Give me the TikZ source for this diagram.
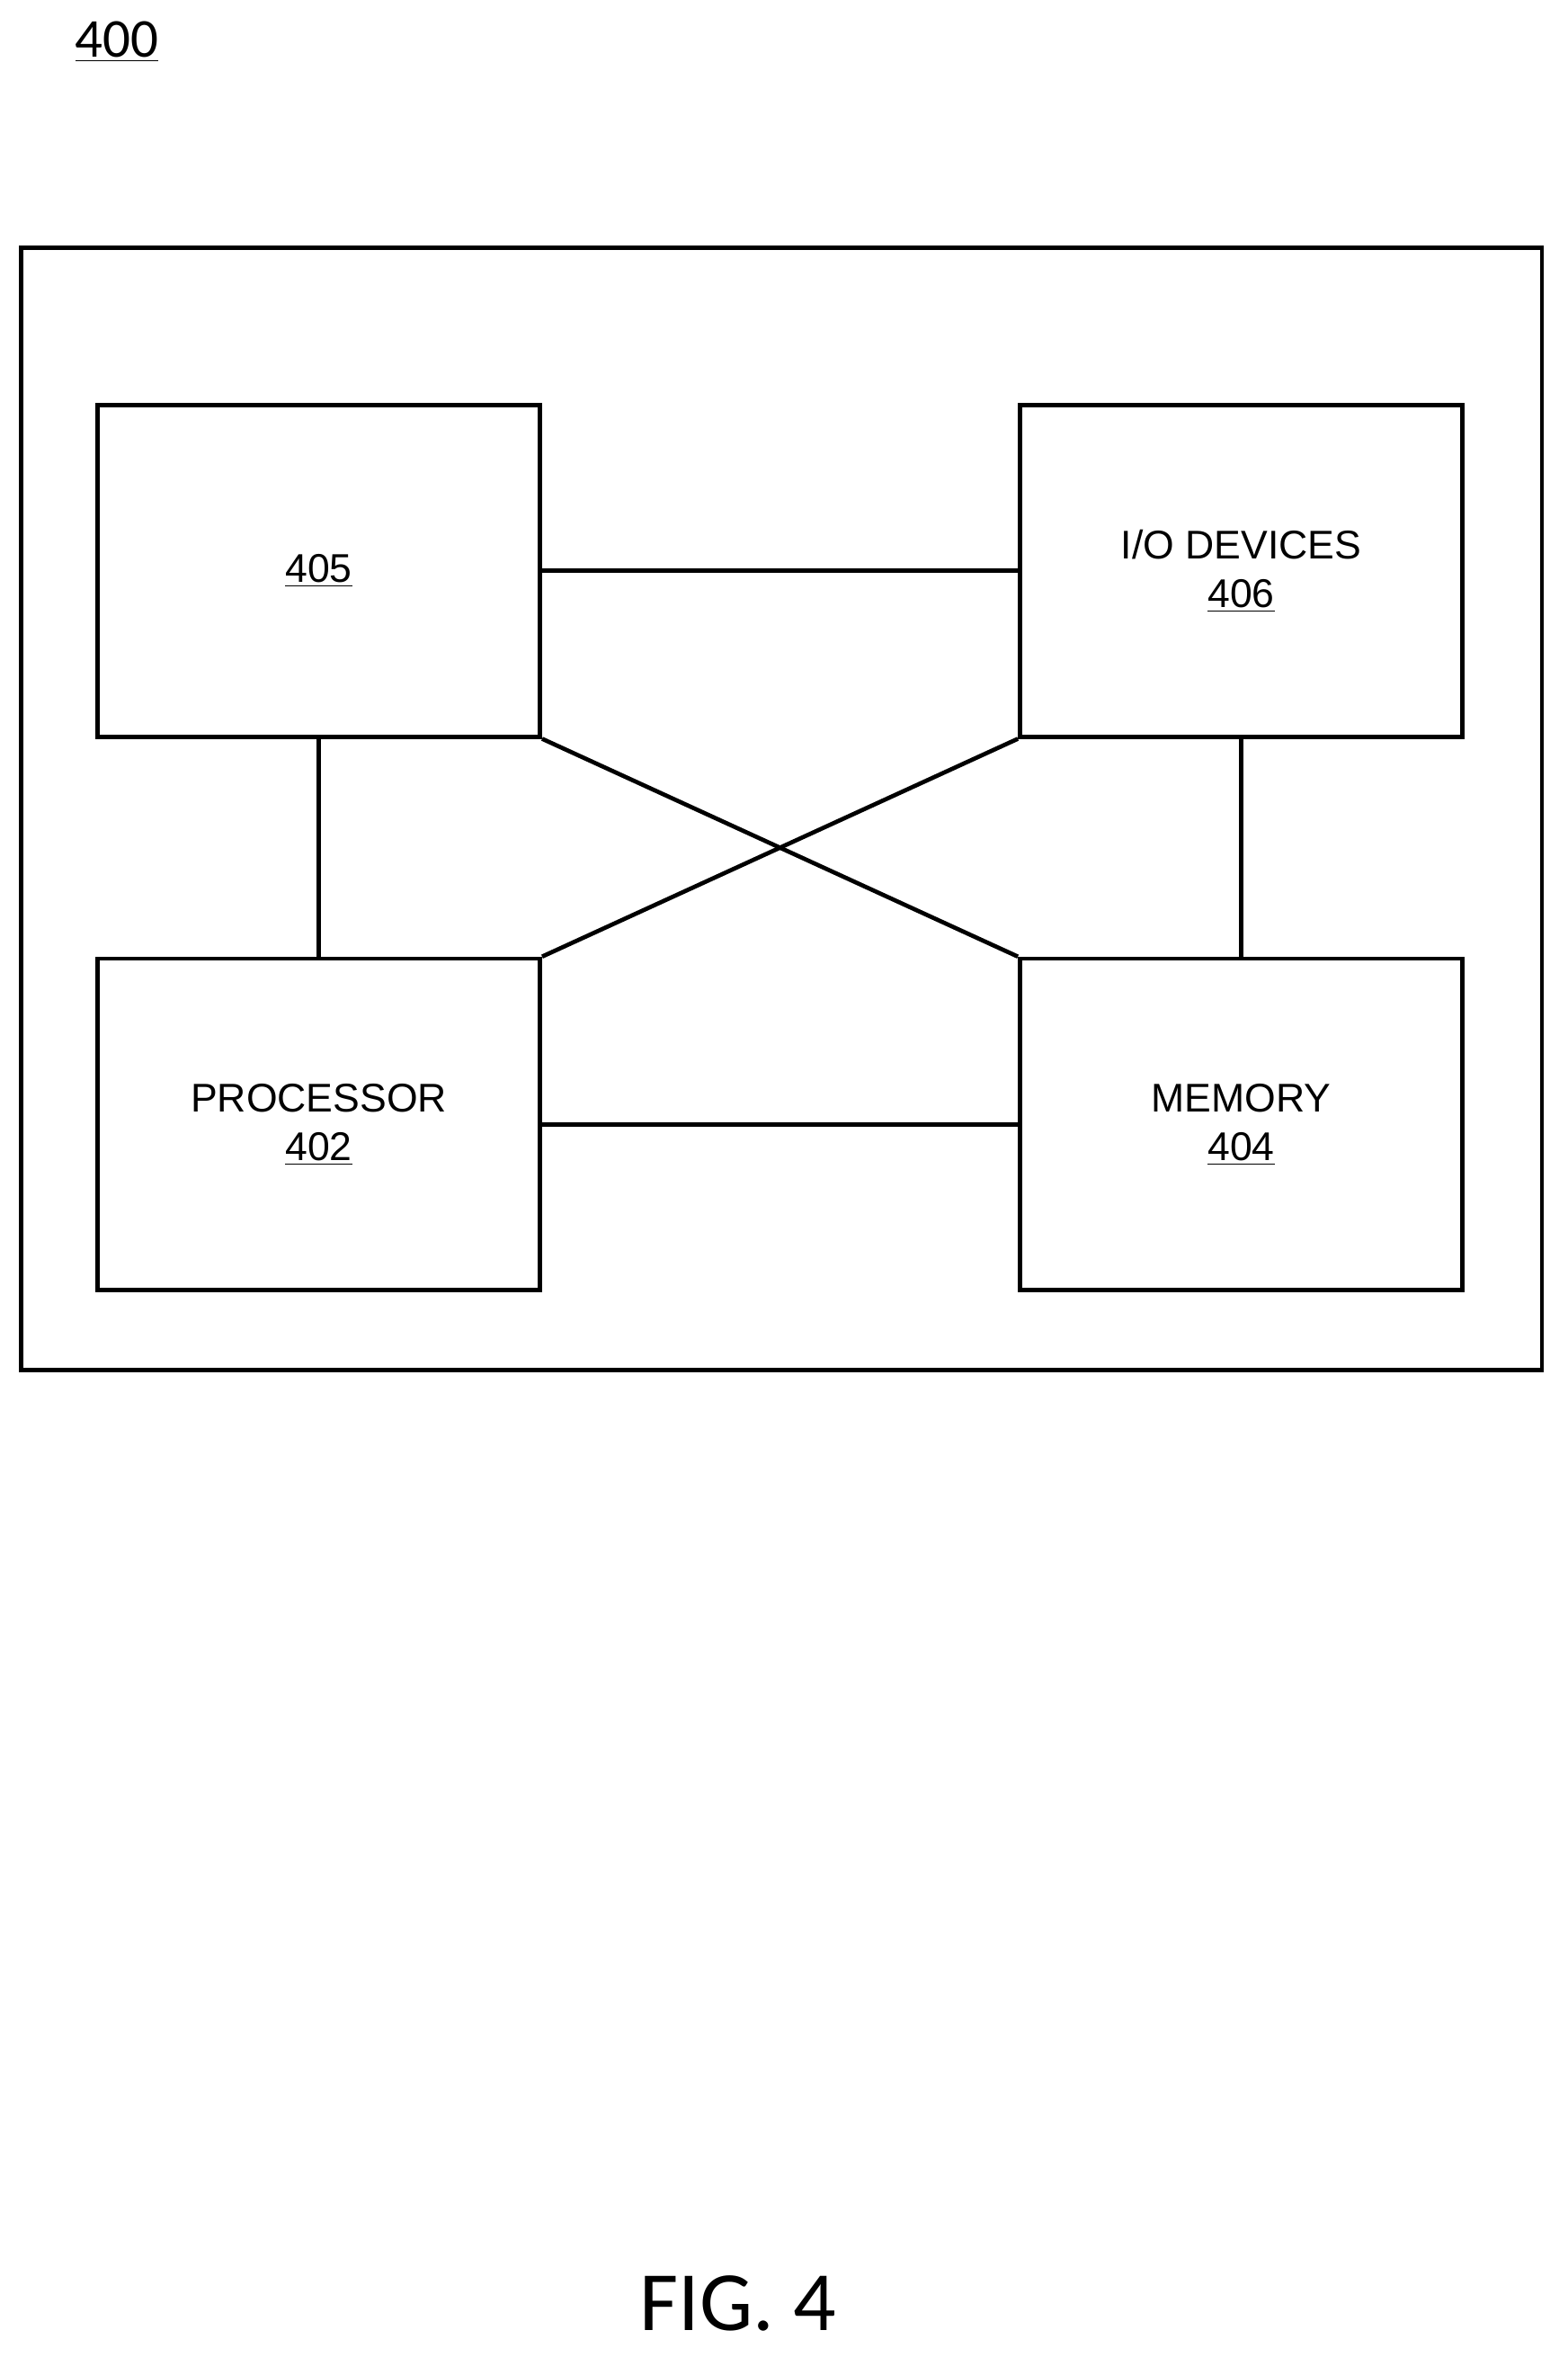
\documentclass[tikz,border=0pt]{standalone}
\usepackage{fontspec}
\setmainfont{Liberation Sans}
\newfontfamily\figfont{Carlito}
\usetikzlibrary{positioning}
\tikzset{
    % plain box for one unit
    unit box/.style={draw, line width=2pt, minimum width=73.75mm,
        minimum height=55.25mm, align=center, font=\fontsize{19}{23}\selectfont},
    % connectors between units
    link/.style={line width=2pt}}

\begin{document}
\begin{tikzpicture}[x=0.25mm, y=-0.25mm]

\useasboundingbox (0,0) rectangle (1045,1571);

\node [font=\figfont\fontsize{26}{30}\selectfont] (title) at (78,28) {\underline{400}};

% outer frame
\draw [link] (14,165) rectangle (1028,913);

\node [unit box] (store) at (212.5,380.5) {\underline{405}};
\node [unit box] (io) at (827.5,380.5) {I/O DEVICES\\\underline{406}};
\node [unit box] (cpu) at (212.5,749.5) {PROCESSOR\\\underline{402}};
\node [unit box] (mem) at (827.5,749.5) {MEMORY\\\underline{404}};

\draw [link] (store) -- (io);
\draw [link] (cpu) -- (mem);
\draw [link] (store) -- (cpu);
\draw [link] (io) -- (mem);
\draw [link] (store.south east) -- (mem.north west);
\draw [link] (io.south west) -- (cpu.north east);

\node [font=\figfont\fontsize{40}{46}\selectfont] (fig) at (492,1535) {FIG. 4};

\end{tikzpicture}
\end{document}
